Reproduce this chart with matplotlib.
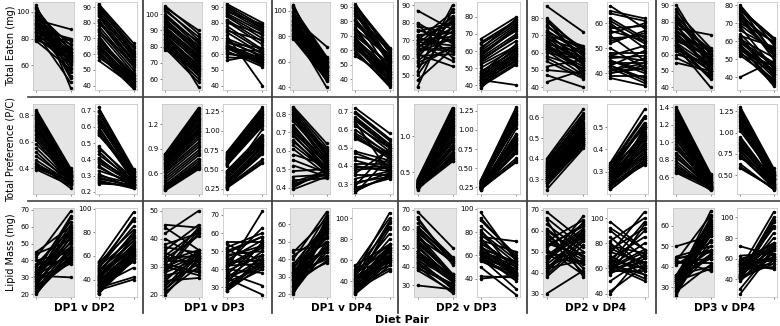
import matplotlib
matplotlib.use("Agg")
import matplotlib.pyplot as plt
from matplotlib.lines import Line2D

# ---- data: per-animal values for each diet (group A = grey panels, group B = white panels)
# Total Eaten (mg)
te_a_dp1 = [105, 104, 103, 102, 100, 99, 98, 97, 96, 95, 94, 93, 92, 91, 90, 90,
            89, 88, 87, 86, 85, 85, 84, 83, 82, 81, 80, 80, 79, 78, 92, 88]
te_a_dp2 = [43, 52, 65, 70, 60, 75, 68, 50, 72, 66, 87, 62, 78, 64, 70, 58,
            67, 63, 80, 55, 76, 69, 47, 65, 72, 61, 79, 64, 68, 57, 73, 62]
te_a_dp3 = [88, 90, 84, 86, 82, 80, 83, 78, 79, 77, 76, 81, 74, 75, 72, 73,
            70, 71, 68, 66, 69, 67, 65, 64, 63, 62, 60, 66, 58, 66, 74, 55]
te_a_dp4 = [50, 56, 60, 64, 56, 63, 61, 48, 62, 57, 72, 57, 62, 55, 57, 51,
            54, 52, 60, 45, 58, 53, 40, 50, 53, 47, 55, 50, 48, 46, 59, 50]
te_b_dp1 = [92, 91, 90, 89, 88, 86, 85, 84, 82, 81, 80, 78, 76, 75, 74, 72,
            70, 69, 68, 66, 65, 65, 64, 64, 63, 62, 61, 60, 58, 56, 87, 67]
te_b_dp2 = [67, 65, 62, 64, 60, 58, 59, 56, 55, 53, 57, 52, 50, 54, 48, 43,
            47, 45, 46, 44, 43, 41, 42, 40, 45, 39, 41, 38, 43, 40, 61, 47]
te_b_dp3 = [80, 78, 76, 77, 75, 74, 72, 70, 68, 66, 73, 63, 62, 69, 60, 40,
            61, 58, 59, 57, 56, 55, 54, 53, 62, 52, 55, 58, 57, 60, 79, 64]
te_b_dp4 = [58, 62, 54, 61, 50, 59, 52, 60, 45, 56, 53, 57, 42, 55, 48, 49,
            51, 40, 47, 44, 38, 46, 36, 43, 41, 39, 44, 35, 37, 42, 53, 45]

# Total Preference (P/C)
tp_a_dp1 = [0.84, 0.83, 0.82, 0.81, 0.80, 0.80, 0.79, 0.78, 0.76, 0.74, 0.73, 0.72,
            0.70, 0.69, 0.68, 0.66, 0.65, 0.63, 0.61, 0.58, 0.55, 0.52, 0.49, 0.46,
            0.44, 0.43, 0.42, 0.41, 0.40, 0.39, 0.77, 0.71]
tp_a_dp2 = [0.40, 0.39, 0.38, 0.37, 0.36, 0.38, 0.35, 0.34, 0.36, 0.33, 0.35, 0.32,
            0.34, 0.31, 0.33, 0.30, 0.32, 0.31, 0.29, 0.33, 0.30, 0.28, 0.31, 0.29,
            0.25, 0.30, 0.28, 0.29, 0.30, 0.27, 0.37, 0.34]
tp_a_dp3 = [1.40, 1.38, 1.36, 1.34, 1.32, 1.30, 1.28, 1.25, 1.22, 1.20, 1.18, 1.15,
            1.12, 1.10, 1.08, 1.05, 1.02, 0.98, 0.95, 0.92, 0.88, 0.85, 0.82, 0.78,
            0.75, 0.72, 0.70, 0.68, 0.66, 0.65, 1.26, 1.14]
tp_a_dp4 = [0.64, 0.62, 0.60, 0.58, 0.57, 0.59, 0.55, 0.53, 0.56, 0.52, 0.54, 0.50,
            0.53, 0.49, 0.51, 0.48, 0.50, 0.49, 0.47, 0.52, 0.48, 0.46, 0.50, 0.47,
            0.45, 0.49, 0.47, 0.48, 0.50, 0.46, 0.61, 0.55]
tp_b_dp1 = [0.72, 0.70, 0.69, 0.67, 0.65, 0.64, 0.63, 0.62, 0.60, 0.58, 0.57, 0.56,
            0.55, 0.48, 0.47, 0.45, 0.43, 0.41, 0.40, 0.38, 0.36, 0.35, 0.33, 0.31,
            0.30, 0.29, 0.28, 0.27, 0.26, 0.25, 0.66, 0.39]
tp_b_dp2 = [0.34, 0.33, 0.32, 0.31, 0.33, 0.30, 0.29, 0.32, 0.28, 0.30, 0.27, 0.29,
            0.31, 0.26, 0.28, 0.25, 0.27, 0.24, 0.26, 0.25, 0.23, 0.24, 0.26, 0.22,
            0.25, 0.23, 0.24, 0.22, 0.23, 0.24, 0.30, 0.27]
tp_b_dp3 = [1.30, 1.28, 1.26, 1.24, 1.22, 1.20, 1.18, 1.16, 1.14, 1.12, 1.10, 1.08,
            1.06, 0.95, 0.93, 0.91, 0.89, 0.87, 0.85, 0.83, 1.02, 0.80, 0.78, 0.75,
            0.72, 0.70, 0.63, 0.60, 0.58, 0.82, 1.21, 0.88]
tp_b_dp4 = [0.58, 0.55, 0.54, 0.52, 0.50, 0.36, 0.48, 0.50, 0.46, 0.47, 0.45, 0.44,
            0.46, 0.43, 0.40, 0.42, 0.38, 0.41, 0.37, 0.39, 0.49, 0.35, 0.37, 0.34,
            0.36, 0.50, 0.33, 0.34, 0.35, 0.45, 0.51, 0.40]

# Lipid Mass (mg)
lm_a_dp1 = [45, 44, 42, 40, 38, 37, 36, 35, 34, 33, 33, 32, 32, 31, 31, 30,
            30, 29, 28, 28, 27, 26, 25, 25, 24, 23, 22, 22, 21, 20, 31, 29]
lm_a_dp2 = [60, 52, 69, 45, 58, 47, 63, 42, 55, 50, 66, 48, 57, 44, 61, 53,
            38, 56, 46, 59, 41, 51, 40, 54, 39, 48, 45, 43, 42, 47, 30, 65]
lm_a_dp3 = [44, 36, 50, 33, 42, 35, 45, 30, 43, 34, 41, 32, 36, 28, 44, 35,
            27, 34, 33, 42, 29, 33, 26, 36, 31, 35, 32, 34, 30, 33, 28, 43]
lm_a_dp4 = [48, 63, 55, 67, 44, 60, 50, 58, 65, 45, 52, 61, 40, 57, 47, 62,
            53, 46, 59, 42, 56, 39, 60, 48, 55, 44, 64, 50, 46, 58, 41, 38]
lm_b_dp1 = [55, 54, 52, 51, 50, 48, 47, 46, 45, 44, 43, 42, 41, 40, 40, 39,
            38, 37, 36, 35, 35, 34, 33, 32, 31, 30, 30, 29, 28, 28, 49, 42]
lm_b_dp2 = [97, 82, 90, 75, 85, 72, 78, 68, 80, 65, 73, 62, 70, 60, 76, 63,
            58, 66, 55, 64, 50, 61, 42, 62, 40, 58, 60, 56, 63, 57, 92, 67]
lm_b_dp3 = [55, 44, 60, 42, 58, 50, 53, 40, 56, 45, 63, 43, 52, 38, 72, 48,
            31, 54, 42, 50, 26, 46, 41, 55, 43, 40, 45, 44, 42, 48, 58, 53]
lm_b_dp4 = [75, 100, 68, 92, 60, 105, 72, 85, 58, 97, 65, 80, 55, 73, 63, 90,
            70, 60, 95, 52, 68, 75, 62, 50, 72, 58, 65, 70, 55, 62, 75, 60]

pair_labels = ["DP1 v DP2", "DP1 v DP3", "DP1 v DP4", "DP2 v DP3", "DP2 v DP4", "DP3 v DP4"]
pairs = [(1, 2), (1, 3), (1, 4), (2, 3), (2, 4), (3, 4)]
row_labels = ["Total Eaten (mg)", "Total Preference (P/C)", "Lipid Mass (mg)"]

# y limits and ticks for each panel: row -> list of 12 (A, B per pair)
ylims = [
    [(41.3, 107.5), (37.2, 93.2), (53.3, 107.5), (37.2, 93.2), (38, 107), (32.7, 93.4),
     (41.4, 91.9), (37.1, 88.8), (38.4, 89.4), (33.2, 68.6), (38.4, 92), (32.8, 81.9)],
    [(0.205, 0.886), (0.186, 0.741), (0.347, 1.445), (0.185, 1.345), (0.365, 0.855), (0.245, 0.742),
     (0.196, 1.453), (0.163, 1.337), (0.229, 0.665), (0.199, 0.604), (0.408, 1.438), (0.278, 1.337)],
    [(18.4, 71), (25.2, 100.6), (19.2, 51), (24.7, 73.8), (18.5, 69.2), (25, 109.6),
     (23.9, 70.9), (24.3, 100.6), (28.4, 70.8), (37.3, 108), (25.3, 68.6), (23, 109)],
]
yticks = [
    [[60, 80, 100], [40, 50, 60, 70, 80, 90], [60, 70, 80, 90, 100], [40, 50, 60, 70, 80, 90],
     [40, 60, 80, 100], [40, 50, 60, 70, 80, 90], [50, 60, 70, 80, 90], [40, 50, 60, 70, 80],
     [40, 50, 60, 70, 80], [40, 50, 60], [40, 50, 60, 70, 80, 90], [40, 50, 60, 70, 80]],
    [[0.4, 0.6, 0.8], [0.2, 0.3, 0.4, 0.5, 0.6, 0.7], [0.6, 0.9, 1.2], [0.25, 0.5, 0.75, 1.0, 1.25],
     [0.4, 0.5, 0.6, 0.7, 0.8], [0.3, 0.4, 0.5, 0.6, 0.7], [0.5, 1.0], [0.25, 0.5, 0.75, 1.0, 1.25],
     [0.3, 0.4, 0.5, 0.6], [0.3, 0.4, 0.5], [0.6, 0.8, 1.0, 1.2, 1.4], [0.5, 0.75, 1.0, 1.25]],
    [[20, 30, 40, 50, 60, 70], [40, 60, 80, 100], [20, 30, 40, 50], [30, 40, 50, 60, 70],
     [20, 30, 40, 50, 60], [40, 60, 80, 100], [30, 40, 50, 60, 70], [40, 60, 80, 100],
     [30, 40, 50, 60, 70], [40, 60, 80, 100], [30, 40, 50, 60], [40, 60, 80, 100]],
]

data = {
    (0, "a"): [te_a_dp1, te_a_dp2, te_a_dp3, te_a_dp4],
    (0, "b"): [te_b_dp1, te_b_dp2, te_b_dp3, te_b_dp4],
    (1, "a"): [tp_a_dp1, tp_a_dp2, tp_a_dp3, tp_a_dp4],
    (1, "b"): [tp_b_dp1, tp_b_dp2, tp_b_dp3, tp_b_dp4],
    (2, "a"): [lm_a_dp1, lm_a_dp2, lm_a_dp3, lm_a_dp4],
    (2, "b"): [lm_b_dp1, lm_b_dp2, lm_b_dp3, lm_b_dp4],
}

W, H = 780, 326
fig = plt.figure(figsize=(W / 100, H / 100), dpi=100)

# panel pixel boxes (left, right) per column and (top, bottom) per row
col_px = [(33, 74), (95, 137), (162, 202), (223, 266), (290, 330), (352, 393),
          (414, 456), (477, 520), (543, 587), (607, 648), (673, 714), (737, 777)]
row_px = [(2, 90), (104, 194), (208, 297)]

for r in range(3):
    for c in range(12):
        l, rr = col_px[c]
        t, b = row_px[r]
        ax = fig.add_axes([l / W, 1 - b / H, (rr - l) / W, (b - t) / H])
        grp = "a" if c % 2 == 0 else "b"
        i, j = pairs[c // 2]
        v0 = data[(r, grp)][i - 1]
        v1 = data[(r, grp)][j - 1]
        for s, e in zip(v0, v1):
            ax.plot([0, 1], [s, e], color="black", lw=1.3, marker="o", ms=1.5,
                    solid_capstyle="round")
        ax.set_xlim(-0.1, 1.1)
        ax.set_ylim(*ylims[r][c])
        ax.set_yticks(yticks[r][c])
        ax.set_xticks([0, 1])
        ax.set_xticklabels([])
        ax.tick_params(axis="both", length=1.5, width=0.5, color="#555555",
                       labelsize=5, pad=1)
        ax.set_facecolor("#e5e5e5" if grp == "a" else "white")
        for sp in ax.spines.values():
            sp.set_color("#c8c8c8")
            sp.set_linewidth(0.6)

# row labels
label_font = ["Liberation Sans Narrow", "DejaVu Sans"]
for r, lab in enumerate(row_labels):
    t, b = row_px[r]
    fig.text(11 / W, 1 - (t + b) / 2 / H, lab, rotation=90, ha="center", va="center",
             fontsize=7, family=label_font)

# pair labels
sep_x = [143, 272, 398, 527, 656]
for k, lab in enumerate(pair_labels):
    cx = (col_px[2 * k][0] + col_px[2 * k + 1][1]) / 2
    fig.text(cx / W, 1 - 308 / H, lab, ha="center", va="center", fontsize=7.5,
             fontweight="bold")
fig.text(402 / W, 1 - 320 / H, "Diet Pair", ha="center", va="center", fontsize=8,
         fontweight="bold")

# separator lines
for x in sep_x:
    fig.add_artist(Line2D([x / W, x / W], [1, 1 - 313 / H], color="#333333", lw=1.2))
for y in [97, 201]:
    fig.add_artist(Line2D([28 / W, 1], [1 - y / H, 1 - y / H], color="#444444", lw=1.2))

fig.savefig("out.png", dpi=100)
